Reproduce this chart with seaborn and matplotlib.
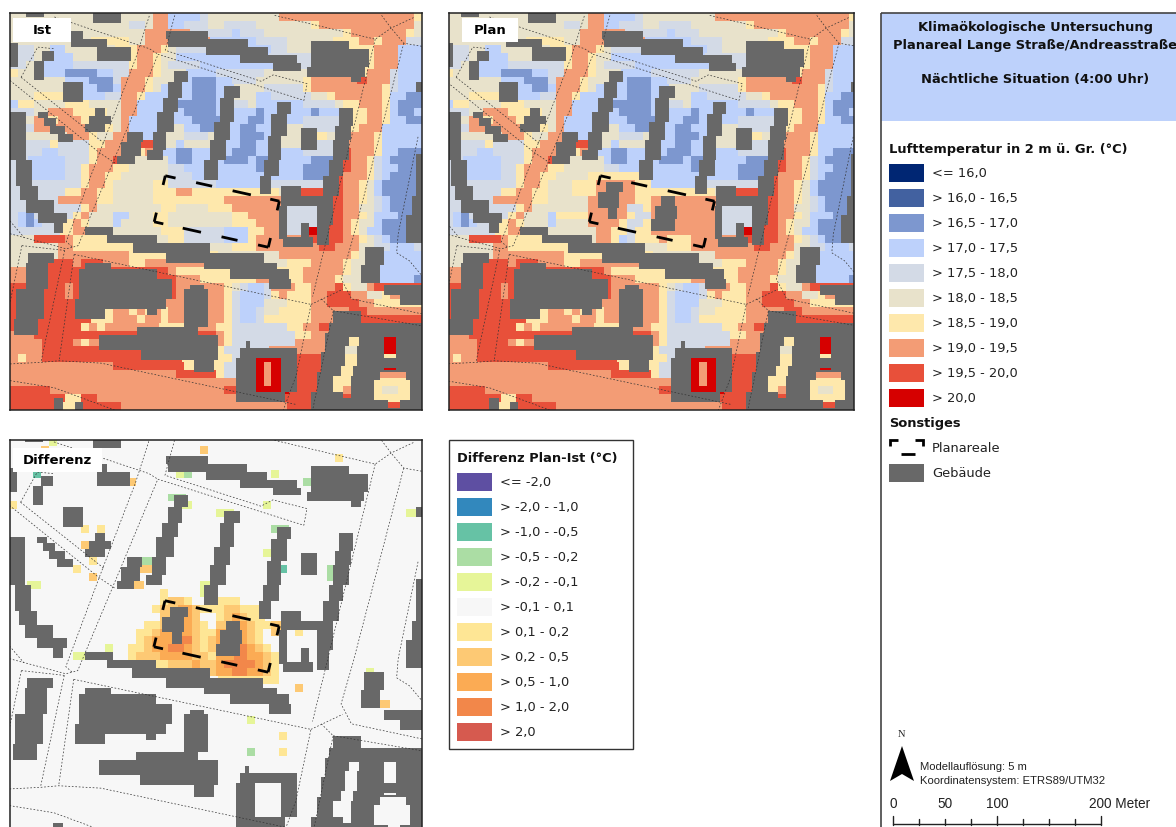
import re
import numpy as np
import matplotlib
matplotlib.use("Agg")
import matplotlib.pyplot as plt
from matplotlib.colors import ListedColormap, BoundaryNorm
from matplotlib.patches import Rectangle, Polygon
import seaborn as sns

# ---- DATA ---- class grids, run-length coded per row (52 cells x 50 rows)
IST_ROWS = [
"E2B2E7B3E4O2L4G1E9O17Y1",
"E15G2E1O2L2G3E2G4E7Y1O12E1",
"E8B2E7O3B5G3L1G3E10Y1O7Y1E1",
"B1E7B4Y3E2O3B10L1G4E3B5Y1O2Y1O3G2",
"B1G2E2L2E4B4Y1O3Y1E1G4B7L1G2E3B7Y1O3L3",
"B1G2E1B2L2E3B4Y1O2Y1E2L8B7G2B7Y1O3L3",
"B1G1E1B2L3G7Y1O2Y1E1G4L9B4G1B7Y1O3L3",
"Y1E2B2L2M4L2G2O3Y1E2B2L3G6E5B7Y1O3G1L3",
"E7L3M3G1O3Y1E2B2L1M3L2G3E6Y1O5B1R1O3G1L3",
"E7B3L1M2L1O3Y1E1L1B2L1M3L1B2E3G5Y1O9Y1G1L2B1",
"E3Y4B3L2G2O2Y1L3B2L1M3L1B2E2L2G5E2Y1O6Y1L2M2",
"L1Y2E4Y3E4O2L3B2M5L1B2G1E1L3B2L1G4E1Y2O3Y1L1M3",
"B1G2E1B1O3Y3B2E1O2L3B2L1M4L1B2L2M1L2B2L2M1L3B2Y1O2Y1L1M2L1",
"B2E1O1B1Y1O3Y1B3E1O1L4B2L2M3B2L2M2L1B2L2G5B2Y1O2Y1L2M2",
"B2G1O2B2O3B2Y1E1O1L3B2E2L2M2B2L1M2L2B2E2G4B2Y1O3L5",
"B2E4B2O2Y1E2O2B2L1B2E2G3E1B2L1M3L1B2E2B2Y1E1B2O3Y1L5",
"B2G3Y1G4Y2O3B2R1B2E1L1E3B2L2M2L1B2E3B2G2B2O3Y1L5",
"B2G2L2G4Y1O3B2Y1O1B2L1M2L2B2L1M3L1B2L3G3B2R1O3Y1L2M2B1",
"G1B2L4G3Y1O2R1B2E4L1M2L1B2L1M3L1M1B2L4M2B2R1O2Y1G1L1M3B1",
"G1B2L4G2Y1O3Y2E5G2L2B2L5M1B2L3M3B2R1O2Y1G1L2M2B1",
"G1B2L4G2Y1O2Y2E6G3L1B2L5B2L4M2B2R1O3Y1G1L1M3B1",
"G1B2G6Y1O2Y1E5Y2G6L5B2G6B2R1O2Y1E1L1M4B1",
"G1B3G3Y2O2Y2E5Y3O2Y8B2Y1E1B2R2B2R1O2Y1E1L1M4B1",
"G2B3G1O5Y2E5Y8Y1O7B7R1O2Y1E1G1L1M2B2",
"G2B3G4Y1O1E8Y2E4Y3O6B1G4B2R1O2E2G1L1M2B2",
"G1L1M1G1B3G1Y1O1E3L2E3Y2E8Y2O4B1G4B2R1O2Y1E1L3M1B2",
"G1L1M1L1G1B2Y1O1Y1E3L1E4Y2E8Y3O3B1G2B1G1B2R1O1Y1E2L1M3B2",
"G5B2Y1O1B4E6Y3G5L3Y2O2B1G2D1B3R1O1Y1E1L2M3B2",
"E3R4O1Y4B6E2Y2G5L3Y1O4B5R2O2Y1E1G1L1M2B2",
"E6O2Y8B9E3Y3O8R2O3E2G2L3G1",
"E2B3E1O2O7Y5B12E2O9Y1E1B3L4",
"E2B3R3O1R1B3O2Y2O7B9E2Y3O4Y1E2B3L4",
"O2B3R4B9R2O1Y7B7Y2O5Y1E1B3L5",
"O2B3R4B11R1O3Y7O2B2Y2O4Y1E2B3L4M1",
"R2B3R2O1R1B11R1O2B2O2Y1E1G1L2G1O3Y2O3R1Y1E2O1R1B5",
"R1B3R3O1R1B11R1O1B3O2Y1G1L3G1Y1O1Y3O2R3O2E2Y1O1B3",
"R1B3R4B12O2B3O2Y1G1L3E3Y3O2R4O2Y3B3",
"R1B3R4B4Y1O2Y1O1Y1O1Y1O2B3O2Y1G1L2G1E2Y4O3B3R1O7",
"R1B3R4B4Y1O3Y1O2Y1O2B3O2Y1G1L2G1Y6O3B4R7",
"R1B3R5Y1O1Y1O4B5Y1B3O1Y2G7Y2O2R1B12",
"O3R8B13R2O1Y1G8Y2O2B3Y2B3D1B3",
"O4R4O1Y1O1B15O1Y1G2B1G5O3B4Y2B3D1B3",
"O4R7B15Y1G2B7O3B4E2B2D2B3",
"O1Y1O2R12B11Y1G1B2D4B1R3B3Y2B8",
"O13R9Y1B3Y1G1B3D1O1D1B2R3B2Y2B4D2B3",
"O21R5Y1G1B3D1O1D1B2R2B3Y2B3O4B2",
"O28B3D1O1D1B2R2B3Y2B3Y4B2",
"R5O22R1B3D3B2R2B2Y2O1B3Y1E2Y1B2",
"R5B1R1Y2R2O17B7R3B4R1B3Y4B2",
"R5B2Y1B2R4O21R3B11R2B1",
]
# Plan scenario: rows that change (first column, run-length values)
PLAN_CHANGES = {
    20: (14, "E4Y6"),
    21: (16, "Y3O1B3O1Y2"),
    22: (16, "Y3O1B3O1Y7"),
    23: (14, "E4O1B3O2Y2O1B2O5"),
    24: (14, "E4O1B3O1G2Y1O1B2O5"),
    25: (14, "Y4O2B2O1Y1G2O1B2O5"),
    26: (14, "E4O4Y1G2Y1O1B2O5"),
    27: (18, "E1O2Y2G1Y2O8"),
    28: (18, "E1O2Y1L1G1Y3O1Y3O3"),
}
# Difference Plan-Ist: changed rows ('.' keeps what the row already shows)
DIFF_CHANGES = {
    19: (19, "h1"),
    20: (19, "h1i2h1.3h3"),
    21: (18, "h1i1B2j1i1h3i2h2"),
    22: (19, "i1B2j1i1S2h1i1j1i1h1"),
    23: (17, "h2i1B2j1i1h1S1i1B2j1i1h2i1"),
    24: (16, "h2i1j1B2j1i1h2j1B2j1i1h1S1i1"),
    25: (16, "h1i1j1B3k1i1h1i1j1B2j1i1h1"),
    26: (15, "h2i1j2k2j1i1h1i1k1B2k1j1i1h1"),
    27: (15, "h1i3j4i2h1j1B2k1j2i1h1"),
    28: (18, "h2i3j1i2j1k4j1i1h1"),
    29: (25, "i1j2k2j2i1h1"),
    30: (32, "h2"),
}
DIFF_SPOTS = [(4,3,'e'),(5,15,'i'),(8,0,'h'),(7,20,'f'),(4,22,'f'),(4,21,'g'),(5,37,'f'),
              (4,33,'g'),(1,24,'i'),(2,41,'h'),(16,40,'f'),(17,40,'f'),(16,34,'e'),(14,32,'g'),
              (13,9,'i'),(11,11,'h'),(11,9,'h'),(15,10,'h'),(16,8,'h'),(17,10,'i'),(18,16,'i'),
              (16,17,'i'),(15,17,'f'),(18,24,'g'),(19,24,'g'),(24,36,'h'),(31,36,'i'),(39,30,'f'),
              (37,34,'h'),(39,34,'h'),(33,47,'i'),(8,32,'g'),(9,26,'g'),(11,33,'f'),(9,50,'g'),
              (18,3,'g'),(1,4,'i'),(0,5,'g'),(8,22,'g'),(26,12,'g'),(27,8,'g'),(29,45,'g'),(35,30,'g')]

# building footprints: (top, bottom, left, right) in map units
BUILDINGS = [
 (42,72,280,360),(42,55,80,130),(95,120,215,250),(120,145,215,320),(145,185,290,395),(130,200,30,52),
 (155,185,125,160),(185,245,100,130),(250,310,190,250),(325,350,285,315),(350,375,270,330),(375,400,255,315),
 (340,355,115,145),(355,380,130,165),(380,405,150,195),(405,430,175,220),
 (340,480,30,80),(480,560,45,95),(560,600,60,115),(600,640,80,160),(640,670,115,205),(670,700,160,190),
 (400,430,380,425),(430,470,365,420),(470,495,350,405),
 (215,250,520,565),(250,300,505,545),(300,340,490,535),(340,400,470,520),(400,450,455,500),(450,480,440,485),
 (265,295,670,720),(295,370,660,700),(370,420,640,690),(420,480,630,675),(480,540,612,655),
 (310,345,830,875),(345,410,815,860),(410,480,800,845),(480,530,790,835),(530,585,780,815),
 (390,450,905,950),
 (95,120,500,625),(120,145,505,745),(145,165,620,800),(165,190,720,890),(190,215,820,905),
 (125,150,935,1045),(150,200,935,1105),(200,230,920,1090),(230,250,1050,1080),
 (325,380,1015,1060),(380,420,1005,1050),(420,480,995,1045),(480,530,985,1030),(530,590,970,1015),
 (590,680,950,1000),(680,740,950,985),
 (560,590,845,900),(590,620,845,965),(620,720,835,860),(715,745,850,940),(670,720,905,925),
 (685,710,255,340),(710,735,320,470),(735,760,400,630),(760,790,500,790),(790,810,610,830),
 (810,840,690,870),(840,870,810,875),
 (760,790,85,160),(790,870,80,145),(870,960,50,130),(960,1005,40,115),
 (790,810,255,330),(810,840,240,470),(840,900,235,515),(900,930,225,500),(930,960,225,315),(930,945,440,470),
 (855,870,570,610),(870,980,550,625),(980,1005,410,595),(1005,1055,300,655),(1055,1085,420,655),(1085,1120,580,640),
 (745,800,1095,1155),(800,850,1080,1140),(855,885,1155,1265),(885,915,1200,1265),
 (250,280,1250,1265),(465,590,1250,1265),(590,650,1235,1265),(650,730,1220,1265),
 (1195,1232,160,190),(1210,1232,225,250),
 (1025,1050,735,750),(1050,1075,720,890),(1075,1180,705,765),(1075,1180,845,890),(1180,1210,705,855),
 (935,970,1000,1080),(970,1000,985,1265),(1000,1060,975,1265),(1060,1120,960,1265),(1120,1180,950,1265),(1180,1232,935,1265),
]
COURTYARDS = [(1010,1040,1048,1075),(1040,1100,1035,1070),(1100,1130,1020,1060),(1130,1180,1000,1050),
              (1180,1195,1030,1050),(1010,1075,1155,1185),(1105,1115,1155,1185),(1120,1145,1140,1215),
              (1145,1200,1125,1230),(1200,1225,1165,1200)]
NEW_BUILDINGS = [(545,575,510,565),(575,625,490,550),(625,660,518,545),
                 (590,620,675,720),(620,660,660,725),(660,695,650,720)]

TEMP_LABELS = ["<= 16,0","> 16,0 - 16,5","> 16,5 - 17,0","> 17,0 - 17,5","> 17,5 - 18,0",
               "> 18,0 - 18,5","> 18,5 - 19,0","> 19,0 - 19,5","> 19,5 - 20,0","> 20,0"]
TEMP_COLORS = ["#002673","#4261a0","#7d97cf","#bdd1fb","#d3dae6","#e8e2cb","#fee8ac","#f39c75","#e8503a","#d60000"]
TEMP_KEYS = ".aMLGEYORD"
DIFF_LABELS = ["<= -2,0","> -2,0 - -1,0","> -1,0 - -0,5","> -0,5 - -0,2","> -0,2 - -0,1",
               "> -0,1 - 0,1","> 0,1 - 0,2","> 0,2 - 0,5","> 0,5 - 1,0","> 1,0 - 2,0","> 2,0"]
DIFF_COLORS = ["#5e4fa2","#3288bd","#66c2a5","#abdda4","#e6f598","#f7f7f7","#fee695","#fdc974","#fbab54","#f2874a","#d65a4f"]
DIFF_KEYS = "pqefgShijkl"
BUILDING = "#686868"

ROADS = [
 [(20.8,.3),(19.6,4.7),(31.7,8.6),(33.2,7.8),(37.5,8.9),(37.1,11),(18.7,5.2),(8.6,29.3),(7.9,29.5),(7.1,28.8),(11.3,17.6),(15.9,5.6),(17.6,.3)],
 [(5.6,.5),(17.6,4.5),(18.7,5.2)],
 [(33.4,.3),(46.1,3.3),(48.1,1.9),(51.1,.5)],
 [(46.9,.3),(48.1,1.9),(49.7,3.8),(52,4.2)],
 [(46.1,3.3),(38.2,35.7)],
 [(49.7,3.8),(43.3,28.3),(41.8,33.5),(43.1,36),(52,37.9)],
 [(38,36.7),(42,34.8)],
 [(8.1,30.4),(38,36.7),(36.1,45.7),(34.5,50)],
 [(39.3,36),(40.8,37.5),(38.2,50)],
 [(40.8,37.5),(52,39.4)],
 [(0,27.8),(7.1,29.7),(7.9,29.5)],
 [(6.9,29.9),(3.9,44)],
 [(8.1,30.4),(6.2,43.8)],
 [(1.5,29.3),(6.9,29.9)],
 [(1.5,29.3),(0,36.5)],
 [(0,44.2),(3.9,44),(6.2,43.8),(11.5,44.1),(36.1,49.3)],
 [(0,46.3),(5.6,47.2),(13.2,50)],
 [(1.4,8.1),(3.5,4.3),(5.6,4.5)],
 [(0,8.5),(11.3,17.6),(13.4,19)],
 [(1.4,8.1),(12,16.5)],
 [(0,26.2),(1.8,28.3)],
 [(51.5,15.6),(49,27.8),(48.8,30.2),(50.4,31.2),(52,33.1)],
]
FRAME = [(19.6,20.5),(34.0,23.7),(32.6,29.5),(18.2,26.3)]
LONG_SIDE = [(0,.09),(.27,.41),(.59,.75),(.92,1)]
SHORT_SIDE = [(0,.2),(.8,1)]

# ---- helpers ----
NCOL, NROW, FINE = 52, 50, 4

def decode(rle):
    return [ch for ch, n in re.findall(r"([A-Za-z.])(\d+)", rle) for _ in range(int(n))]

ist = []
for row in IST_ROWS:
    cells = decode(row)
    ist.append((cells + cells[-1:] * NCOL)[:NCOL])

def patched(base, changes):
    out = [list(r) for r in base]
    for r, (start, rle) in changes.items():
        for k, ch in enumerate(decode(rle)):
            if ch != ".":
                out[r][start + k] = ch
    return out

plan = patched(ist, PLAN_CHANGES)
diff = patched([["B" if c == "B" else "S" for c in r] for r in ist], DIFF_CHANGES)
for r, c, k in DIFF_SPOTS:
    diff[r][c] = k

def fp_mask(extra=()):
    m = np.zeros((NROW * FINE, NCOL * FINE), bool)
    def span(t, b, l, r):
        return (slice(int(round((t - 42) / 23.8 * FINE)), int(round((b - 42) / 23.8 * FINE))),
                slice(int(round((l - 30) / 23.75 * FINE)), int(round((r - 30) / 23.75 * FINE))))
    for t, b, l, r in list(BUILDINGS) + list(extra):
        m[span(t, b, l, r)] = True
    for t, b, l, r in COURTYARDS:
        m[span(t, b, l, r)] = False
    return m

def fine_values(grid, lookup, mask):
    """Each read cell is repeated FINE times; building cells come from the footprints."""
    bcode = lookup["B"]
    vals = np.array([[lookup[c] for c in r] for r in grid])
    out = np.kron(vals, np.ones((FINE, FINE), int))
    for r in range(out.shape[0]):
        row = vals[r // FINE]
        free = np.where(row != bcode)[0]
        for c in np.where((out[r] == bcode) & ~mask[r])[0]:
            if free.size:
                out[r, c] = row[free[np.argmin(np.abs(free * FINE + FINE / 2 - c))]]
    out[mask] = bcode
    return out

temp_lookup = {k: i for i, k in enumerate(TEMP_KEYS)}
temp_lookup["B"] = len(TEMP_KEYS)
diff_lookup = {k: i for i, k in enumerate(DIFF_KEYS)}
diff_lookup["B"] = len(DIFF_KEYS)

sns.set_theme(style="white")
plt.rcParams["font.family"] = ["DejaVu Sans"]
plt.rcParams["lines.scale_dashes"] = False

W, H = 1176, 828
fig = plt.figure(figsize=(W / 100, H / 100), dpi=100, facecolor="white")

def panel(x0, y0, x1, y1):
    return fig.add_axes([x0 / W, 1 - y1 / H, (x1 - x0) / W, (y1 - y0) / H])

def draw_map(ax, vals, colors, xlim, ylim, label, lab_box):
    cmap = ListedColormap(colors + [BUILDING])
    norm = BoundaryNorm(np.arange(len(colors) + 2) - .5, cmap.N)
    sns.heatmap(vals, ax=ax, cmap=cmap, norm=norm, cbar=False, xticklabels=False, yticklabels=False)
    for road in ROADS:
        xs, ys = zip(*road)
        ax.plot(np.array(xs) * FINE, np.array(ys) * FINE, color="#333333", lw=.5, ls=(0, (1.2, 1.3)))
    for i in range(4):
        (xa, ya), (xb, yb) = FRAME[i], FRAME[(i + 1) % 4]
        for f0, f1 in (LONG_SIDE if i % 2 == 0 else SHORT_SIDE):
            ax.plot([FINE * (xa + (xb - xa) * f0), FINE * (xa + (xb - xa) * f1)],
                    [FINE * (ya + (yb - ya) * f0), FINE * (ya + (yb - ya) * f1)],
                    color="black", lw=2.0, solid_capstyle="butt")
    ax.set_xlim(xlim[0] * FINE, xlim[1] * FINE)
    ax.set_ylim(ylim[0] * FINE, ylim[1] * FINE)
    for s in ax.spines.values():
        s.set_visible(True)
        s.set_color("#222222")
        s.set_linewidth(1.1)
    ov.add_patch(Rectangle((lab_box[0], lab_box[1]), lab_box[2] - lab_box[0], lab_box[3] - lab_box[1],
                           fc="white", ec="none", zorder=5))
    ov.text((lab_box[0] + lab_box[2]) / 2, (lab_box[1] + lab_box[3]) / 2, label, weight="bold",
            fontsize=9.5, ha="center", va="center", color="black", zorder=6)

ax_ist = panel(10, 14, 422, 411)
ax_plan = panel(449, 14, 854, 411)
ax_diff = panel(9.5, 440.5, 422, 836)

ov = fig.add_axes([0, 0, 1, 1], zorder=10)
ov.set_xlim(0, W)
ov.set_ylim(H, 0)
ov.axis("off")
ov.patch.set_alpha(0)

mask_now = fp_mask()
mask_new = fp_mask(NEW_BUILDINGS)
draw_map(ax_ist, fine_values(ist, temp_lookup, mask_now), TEMP_COLORS, (0, 52), (50, 0), "Ist", (13, 19, 71, 43))
draw_map(ax_plan, fine_values(plan, temp_lookup, mask_new), TEMP_COLORS, (.5, 51.6), (50, 0), "Plan", (462, 19, 518, 43))
draw_map(ax_diff, fine_values(diff, diff_lookup, mask_new), DIFF_COLORS, (0, 52), (50, .2), "Differenz", (13, 449, 102, 473))

# ---- right column ----
ov.add_patch(Rectangle((881, 14), 320, 108, fc="#bdd1fb", ec="none"))
ov.add_patch(Rectangle((881, 14), 320, 830, fc="none", ec="#444444", lw=1.2))
for txt, y in (("Klimaökologische Untersuchung", 28), ("Planareal Lange Straße/Andreasstraße", 45),
               ("Nächtliche Situation (4:00 Uhr)", 80)):
    ov.text(1035, y, txt, weight="bold", fontsize=9.4, ha="center", va="center", color="#111111")
ov.text(889, 149, "Lufttemperatur in 2 m ü. Gr. (°C)", weight="bold", fontsize=9.4, va="center", color="#111111")
for i, (lab, col) in enumerate(zip(TEMP_LABELS, TEMP_COLORS)):
    y = 174 + 25 * i
    ov.add_patch(Rectangle((889, y - 9), 35, 18, fc=col, ec="none"))
    ov.text(932, y, lab, fontsize=9.4, va="center", color="#222222")
ov.text(889, 424, "Sonstiges", weight="bold", fontsize=9.4, va="center", color="#111111")
for seg in ([(890, 447), (890, 441), (898, 441)], [(901, 455), (915, 455)], [(915, 441), (923, 441), (923, 447)]):
    xs, ys = zip(*seg)
    ov.plot(xs, ys, color="black", lw=2, solid_joinstyle="miter", solid_capstyle="butt")
ov.text(932, 449, "Planareale", fontsize=9.4, va="center", color="#222222")
ov.add_patch(Rectangle((889, 465), 35, 18, fc=BUILDING, ec="none"))
ov.text(932, 474, "Gebäude", fontsize=9.4, va="center", color="#222222")

# ---- difference legend ----
ov.add_patch(Rectangle((448.5, 440.5), 184, 309, fc="white", ec="#333333", lw=1))
ov.text(457, 459, "Differenz Plan-Ist (°C)", weight="bold", fontsize=9.4, va="center", color="#111111")
for i, (lab, col) in enumerate(zip(DIFF_LABELS, DIFF_COLORS)):
    y = 483 + 25 * i
    ov.add_patch(Rectangle((457, y - 9), 35, 18, fc=col, ec="none"))
    ov.text(500, y, lab, fontsize=9.4, va="center", color="#222222")

# ---- north arrow, notes, scale bar ----
ov.text(901, 735, "N", family="Liberation Serif", fontsize=7.5, ha="center", va="center", color="#222222")
ov.add_patch(Polygon([(902, 747), (914, 782), (902, 775), (890, 782)], closed=True, fc="black", ec="none"))
ov.text(920, 767, "Modellauflösung: 5 m", family="Liberation Sans", fontsize=8.1, va="center", color="#222222")
ov.text(920, 781, "Koordinatensystem: ETRS89/UTM32", family="Liberation Sans", fontsize=8.1, va="center", color="#222222")
for txt, x in (("0", 893), ("50", 945), ("100", 997)):
    ov.text(x, 804, txt, family="Liberation Sans", fontsize=9.8, ha="center", va="center", color="#222222")
ov.text(1089, 804, "200 Meter", family="Liberation Sans", fontsize=9.8, ha="left", va="center", color="#222222")
ov.plot([893, 1101], [825.5, 825.5], color="#222222", lw=1)
for i in range(9):
    x = 893 + 26 * i
    ov.plot([x, x], [817 if i in (0, 4, 8) else 820, 826], color="#222222", lw=1)

fig.savefig("out.png", dpi=100)
